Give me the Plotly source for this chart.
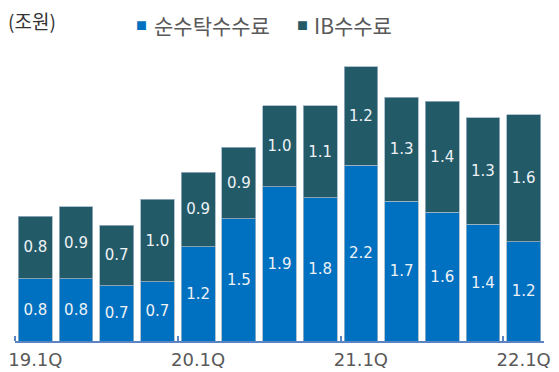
import plotly.graph_objects as go

quarters = ["19.1Q", "19.2Q", "19.3Q", "19.4Q", "20.1Q", "20.2Q", "20.3Q", "20.4Q",
            "21.1Q", "21.2Q", "21.3Q", "21.4Q", "22.1Q"]
brokerage = [0.78, 0.78, 0.69, 0.74, 1.18, 1.53, 1.93, 1.79, 2.20, 1.75, 1.61, 1.46, 1.24]
ib = [0.78, 0.90, 0.76, 1.03, 0.93, 0.89, 1.01, 1.15, 1.23, 1.30, 1.39, 1.33, 1.59]
brokerage_labels = ["0.8", "0.8", "0.7", "0.7", "1.2", "1.5", "1.9", "1.8", "2.2", "1.7", "1.6", "1.4", "1.2"]
ib_labels = ["0.8", "0.9", "0.7", "1.0", "0.9", "0.9", "1.0", "1.1", "1.2", "1.3", "1.4", "1.3", "1.6"]
tick_labels = ["19.1Q", "20.1Q", "21.1Q", "22.1Q"]
tick_positions = [0, 4, 8, 12]
series_names = ["순수탁수수료", "IB수수료"]
series_colors = ["#0070C0", "#235A68"]

KFONT = "Noto Sans CJK KR, sans-serif"
NFONT = "DejaVu Sans, sans-serif"
x = list(range(len(quarters)))

fig = go.Figure()
for vals, labels, name, color in [(brokerage, brokerage_labels, series_names[0], series_colors[0]),
                                  (ib, ib_labels, series_names[1], series_colors[1])]:
    fig.add_trace(go.Bar(
        x=x, y=vals, name=name, text=labels,
        textposition="inside", insidetextanchor="middle", textangle=0,
        textfont=dict(color="#eef2f6", size=15, family=NFONT),
        marker=dict(color=color, line=dict(color="#9fb4c4", width=0.8)),
        hoverinfo="skip", showlegend=False,
    ))

fig.update_layout(
    width=559, height=372,
    margin=dict(l=15, r=15, t=61, b=31),
    barmode="stack", bargap=0.17,
    plot_bgcolor="white", paper_bgcolor="white",
    font=dict(family=KFONT, color="#595959"),
    showlegend=False,
    uniformtext=dict(minsize=15, mode="show"),
)
fig.update_xaxes(
    range=[-0.5, 12.5], tickvals=tick_positions, ticktext=tick_labels,
    showline=True, linecolor="#5b84c4", linewidth=2, ticks="",
    tickfont=dict(size=18, color="#595959", family=NFONT),
    showgrid=False, zeroline=False, automargin=False, ticklabelstandoff=1,
    minor=dict(tick0=-0.5, dtick=4, ticks="inside", ticklen=5, tickcolor="#5b84c4", tickwidth=2),
)
fig.update_yaxes(range=[0, 3.5], visible=False, showgrid=False, zeroline=False)

# unit label
fig.add_annotation(text="(조원)", xref="paper", yref="paper", x=-0.017, y=1.146,
                   xanchor="left", yanchor="middle", showarrow=False,
                   font=dict(size=19, color="#333333", family=KFONT))
# legend (squares + names)
for sq_x, txt_x, name, color in [(0.240, 0.259, series_names[0], series_colors[0]),
                                 (0.544, 0.561, series_names[1], series_colors[1])]:
    fig.add_annotation(text="■", xref="paper", yref="paper", x=sq_x, y=1.129,
                       xanchor="center", yanchor="middle", showarrow=False,
                       font=dict(size=11, color=color, family=KFONT))
    fig.add_annotation(text=name, xref="paper", yref="paper", x=txt_x, y=1.129,
                       xanchor="left", yanchor="middle", showarrow=False,
                       font=dict(size=21, color="#595959", family=KFONT))

fig.write_html("out.html")
